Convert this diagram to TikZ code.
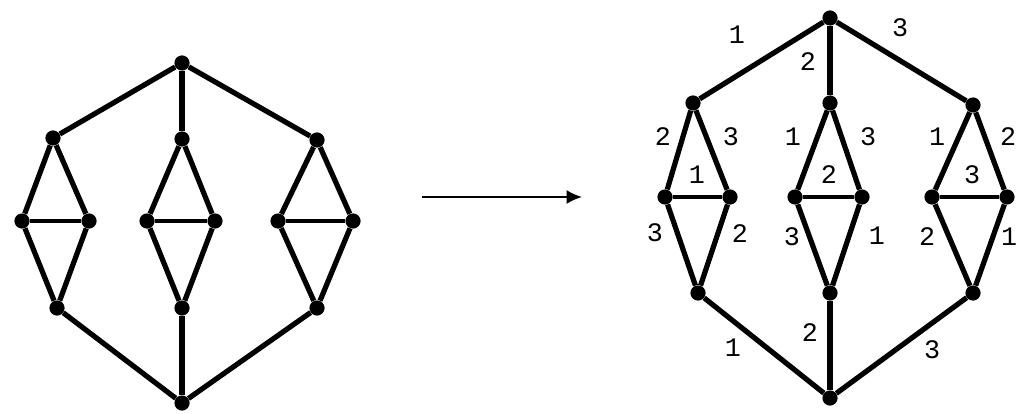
\documentclass[tikz,border=0pt]{standalone}
\usepackage{fontspec}
\newfontfamily\labfont{Liberation Mono}
\usetikzlibrary{arrows.meta}

\begin{document}
\begin{tikzpicture}[x=0.025cm,y=-0.025cm,>=Latex,
  every node/.style={font=\labfont\fontsize{19}{19}\selectfont},
  v/.style={circle,fill,inner sep=0pt,minimum size=0.38cm},
  e/.style={line width=3.7pt},
  bar/.style={line width=2.8pt}]
\useasboundingbox (0,0) rectangle (1016,413);
% left graph
\node[v] (a) at (182,63) {};
\node[v] (a1) at (53,138) {};
\node[v] (a2) at (182,139) {};
\node[v] (a3) at (317,140) {};
\node[v] (b1) at (22,221) {};
\node[v] (b2) at (89,221) {};
\node[v] (b3) at (147,221) {};
\node[v] (b4) at (215,221) {};
\node[v] (b5) at (278,221) {};
\node[v] (b6) at (353,221) {};
\node[v] (c1) at (57,308) {};
\node[v] (c2) at (182,308) {};
\node[v] (c3) at (317,308) {};
\node[v] (d) at (182,403) {};
\draw[e] (a) -- (a1); \draw[e] (a) -- (a2); \draw[e] (a) -- (a3);
\draw[e] (a1) -- (b1); \draw[e] (a1) -- (b2);
\draw[e] (a2) -- (b3); \draw[e] (a2) -- (b4);
\draw[e] (a3) -- (b5); \draw[e] (a3) -- (b6);
\draw[bar] (b1) -- (b2); \draw[bar] (b3) -- (b4); \draw[bar] (b5) -- (b6);
\draw[e] (b1) -- (c1); \draw[e] (b2) -- (c1);
\draw[e] (b3) -- (c2); \draw[e] (b4) -- (c2);
\draw[e] (b5) -- (c3); \draw[e] (b6) -- (c3);
\draw[e] (c1) -- (d); \draw[e] (c2) -- (d); \draw[e] (c3) -- (d);
% arrow
\coordinate (s) at (422,197);
\coordinate (f) at (582,197);
\draw[-{Latex[length=11pt,width=10pt]},line width=1.4pt] (s) -- (f);
% right graph
\node[v] (p) at (830,18) {};
\node[v] (p1) at (693,103) {};
\node[v] (p2) at (830,103) {};
\node[v] (p3) at (973,105) {};
\node[v] (q1) at (665,197) {};
\node[v] (q2) at (730,197) {};
\node[v] (q3) at (795,197) {};
\node[v] (q4) at (862,197) {};
\node[v] (q5) at (932,197) {};
\node[v] (q6) at (1007,197) {};
\node[v] (r1) at (698,293) {};
\node[v] (r2) at (830,293) {};
\node[v] (r3) at (973,293) {};
\node[v] (w) at (830,398) {};
\draw[e] (p) -- (p1); \draw[e] (p) -- (p2); \draw[e] (p) -- (p3);
\draw[e] (p1) -- (q1); \draw[e] (p1) -- (q2);
\draw[e] (p2) -- (q3); \draw[e] (p2) -- (q4);
\draw[e] (p3) -- (q5); \draw[e] (p3) -- (q6);
\draw[bar] (q1) -- (q2); \draw[bar] (q3) -- (q4); \draw[bar] (q5) -- (q6);
\draw[e] (q1) -- (r1); \draw[e] (q2) -- (r1);
\draw[e] (q3) -- (r2); \draw[e] (q4) -- (r2);
\draw[e] (q5) -- (r3); \draw[e] (q6) -- (r3);
\draw[e] (r1) -- (w); \draw[e] (r2) -- (w); \draw[e] (r3) -- (w);
% colours of the edges
\node (n1) at (737,35) {1};
\node (n2) at (808,62) {2};
\node (n3) at (900,28) {3};
\node (n4) at (663,137) {2};
\node (n5) at (731,137) {3};
\node (n6) at (697,175) {1};
\node (n7) at (793,137) {1};
\node (n8) at (868,137) {3};
\node (n9) at (829,175) {2};
\node (n10) at (937,137) {1};
\node (n11) at (1008,137) {2};
\node (n12) at (972,175) {3};
\node (n13) at (655,233) {3};
\node (n14) at (740,234) {2};
\node (n15) at (792,237) {3};
\node (n16) at (877,236) {1};
\node (n17) at (927,237) {2};
\node (n18) at (1009,237) {1};
\node (n19) at (733,348) {1};
\node (n20) at (810,333) {2};
\node (n21) at (932,350) {3};
\end{tikzpicture}
\end{document}
